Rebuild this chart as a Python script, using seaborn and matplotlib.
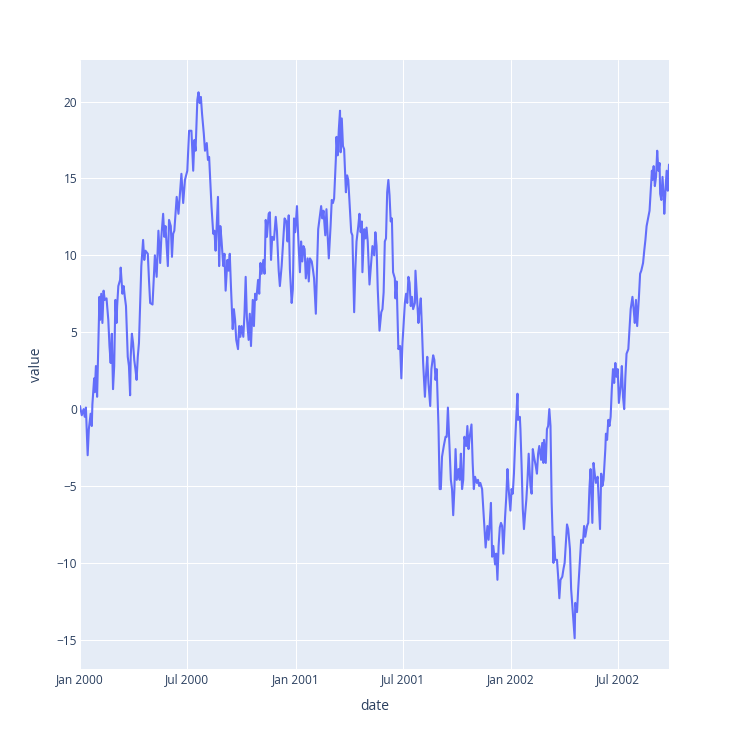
import numpy as np
import pandas as pd
import matplotlib
matplotlib.use("Agg")
import matplotlib.pyplot as plt
import matplotlib.dates as mdates
import seaborn as sns

# ── data: day offset from 2000-01-01 and value ──
START = "2000-01-01"

days_a = [0, 3, 6, 8, 10, 13, 15, 18, 20, 21, 24, 25, 27, 29, 33, 34, 36, 38, 40, 42,
          45, 48, 50, 52, 54, 56, 58, 60, 62, 63, 65, 68, 69, 72, 74, 76, 78, 81, 83, 85,
          86, 88, 90, 92, 94, 96, 98, 100, 102, 104, 107, 109, 111, 115, 117, 119, 123,
          125, 127, 130, 133, 136, 138, 141, 143, 145, 149, 151, 154, 156, 158, 160, 164,
          167]
vals_a = [0.2, -0.4, 0.0, -0.5, 0.1, -3.0, -1.3, -0.3, -1.1, 0.3, 2.0, 1.1, 2.8, 0.8, 7.3,
          5.8, 7.5, 5.6, 7.7, 7.1, 7.2, 5.8, 4.1, 3.0, 4.9, 1.3, 2.8, 7.1, 5.6, 6.7, 8.0,
          8.4, 9.2, 7.5, 8.0, 7.3, 6.7, 3.4, 2.8, 0.9, 3.4, 4.9, 4.3, 3.2, 2.6, 1.9, 3.4,
          4.3, 6.7, 9.3, 11.0, 9.7, 10.3, 10.1, 8.4, 6.9, 6.8, 8.4, 10.0, 8.6, 11.6, 9.5,
          11.2, 12.7, 11.2, 11.9, 9.3, 12.3, 11.9, 9.9, 11.4, 11.6, 13.8, 12.7]

days_b = [172, 175, 178, 182, 185, 189, 192, 194, 196, 199, 201, 203, 205, 207, 210, 212,
          215, 217, 219, 223, 226, 228, 230, 232, 234, 236, 238, 240, 243, 245, 247, 250,
          252, 254, 256, 259, 261, 263, 265, 268, 270, 272, 274, 277, 279, 281, 283, 286,
          288, 290, 293, 295, 297, 299, 302, 304, 306, 308, 311, 313, 315, 317, 320, 322,
          324, 326, 329, 332, 334, 337, 339, 342, 345]
vals_b = [15.3, 13.4, 14.9, 15.5, 18.1, 18.1, 15.5, 17.5, 16.8, 20.1, 20.6, 19.9, 20.3,
          19.2, 17.9, 16.8, 17.3, 16.2, 16.4, 13.2, 11.4, 11.6, 10.3, 12.1, 13.8, 9.3,
          11.9, 11.0, 9.3, 10.1, 7.7, 9.7, 9.0, 10.1, 8.0, 5.2, 6.5, 5.8, 4.5, 3.9, 5.4,
          4.7, 5.4, 4.7, 6.2, 8.6, 6.0, 4.5, 6.2, 4.1, 7.1, 5.4, 7.5, 7.1, 8.4, 7.5, 9.5,
          8.8, 9.7, 8.8, 12.3, 11.2, 12.7, 12.8, 9.7, 11.2, 11.0, 12.5, 11.6, 9.0, 8.0,
          9.3, 11.2]

days_c = [347, 350, 352, 354, 356, 359, 361, 363, 365, 368, 370, 373, 375, 377, 379, 381,
          383, 386, 388, 390, 393, 395, 397, 400, 402, 404, 407, 409, 411, 413, 416, 418,
          420, 422, 425, 427, 429, 431, 434, 435, 437, 439, 441, 442, 444, 446, 448, 451,
          453, 455, 457, 460, 462, 465, 467, 469, 472, 474, 476, 478, 479, 482, 484, 486,
          488, 491, 494, 496, 499, 501, 503, 505, 508, 511, 513, 515, 517, 519, 521, 523,
          525, 527, 529, 531, 534, 535, 537]
vals_c = [12.4, 12.2, 10.9, 12.6, 9.1, 6.9, 7.8, 12.4, 11.5, 13.2, 11.3, 8.9, 10.9, 9.6,
          10.6, 10.4, 8.5, 9.8, 8.3, 9.8, 9.6, 9.1, 8.5, 6.2, 9.1, 11.7, 12.6, 13.2, 12.4,
          12.9, 11.3, 13.0, 11.3, 9.8, 11.9, 13.6, 13.4, 13.7, 16.3, 17.7, 16.5, 18.2,
          19.4, 16.7, 18.9, 17.1, 16.9, 14.1, 15.2, 14.9, 13.5, 11.5, 11.3, 6.3, 9.1, 10.9,
          11.9, 12.7, 11.5, 12.2, 8.9, 11.7, 11.1, 11.8, 10.9, 8.1, 9.6, 10.6, 10.0, 11.5,
          10.6, 7.8, 5.1, 6.3, 6.5, 7.6, 10.9, 11.1, 14.1, 14.9, 13.9, 12.2, 12.4, 8.9,
          8.5, 7.2, 8.3]

days_d = [538, 540, 543, 545, 547, 551, 553, 555, 557, 559, 561, 563, 565, 568, 569, 572,
          574, 576, 578, 580, 582, 585, 587, 589, 591, 594, 596, 599, 601, 603, 605, 608,
          610, 612, 614, 617, 620, 622, 624, 626, 629, 631, 633, 635, 637, 639, 642, 644,
          646, 648, 650, 652, 655, 657, 659, 661, 664, 666, 668, 670, 673, 675, 677, 679,
          682, 684, 686, 688, 691, 693, 695, 697, 699, 701, 704, 706, 708, 710]
vals_d = [6.9, 3.9, 4.1, 2.0, 4.3, 6.9, 7.5, 6.9, 8.6, 8.2, 6.7, 7.3, 6.5, 6.9, 9.0, 6.9,
          5.6, 6.5, 7.2, 5.2, 3.0, 0.8, 2.3, 3.4, 1.7, 0.2, 2.6, 3.5, 3.2, 1.9, 2.6, -1.1,
          -5.2, -5.2, -3.1, -2.4, -1.8, -1.8, 0.1, -1.8, -4.6, -5.2, -6.9, -5.2, -2.6,
          -4.6, -3.9, -4.6, -2.9, -5.2, -4.6, -1.8, -2.4, -1.1, -2.6, -1.8, -1.0, -3.5,
          -5.2, -4.4, -4.8, -4.6, -5.0, -4.8, -5.2, -6.5, -7.8, -9.0, -7.6, -8.5, -7.4,
          -6.1, -9.6, -8.9, -10.1, -9.4, -11.1, -8.9]

days_e = [712, 714, 716, 718, 721, 723, 725, 727, 730, 732, 734, 736, 738, 740, 742, 743,
          746, 747, 749, 751, 753, 755, 757, 759, 761, 764, 766, 768, 770, 773, 775, 777,
          779, 782, 784, 786, 787, 790, 792, 794, 796, 798, 800, 803, 804, 806, 809, 811,
          813, 815, 818, 820, 822, 825, 826, 828, 831, 833, 835, 837, 839, 840, 843, 845]
vals_e = [-7.7, -7.4, -7.6, -9.4, -7.0, -5.7, -3.9, -5.2, -6.6, -5.2, -5.5, -4.2, -2.2,
          -0.5, 1.0, -0.7, -0.5, -1.3, -3.7, -6.5, -7.8, -6.8, -5.9, -4.6, -2.9, -5.0,
          -5.5, -2.6, -3.1, -3.7, -4.2, -2.9, -2.4, -3.3, -2.2, -3.5, -2.0, -3.5, -1.3,
          -1.1, 0.0, -1.1, -6.1, -10.0, -8.3, -9.8, -9.8, -10.9, -12.3, -11.1, -10.9,
          -10.4, -10.0, -8.1, -7.5, -7.8, -9.1, -11.7, -12.8, -13.9, -14.9, -12.6, -13.2,
          -11.7]

days_f = [847, 850, 853, 855, 857, 860, 862, 864, 866, 869, 871, 873, 875, 878, 880, 882,
          884, 886, 888, 891, 892, 894, 896, 898, 900, 902, 904, 906, 908, 910, 912, 914,
          917, 919, 921, 923, 925, 927, 930, 932, 934, 937, 939, 941, 943, 945, 948, 950,
          952, 955, 957, 959, 961, 964, 966, 968, 970, 971, 973, 975, 977, 979, 981, 983,
          984, 986, 988, 990, 991, 993, 995, 997, 999]
vals_f = [-10.4, -8.5, -8.7, -7.6, -8.3, -7.6, -7.4, -5.2, -3.9, -7.4, -3.5, -4.2, -4.8,
          -4.4, -6.1, -7.8, -4.2, -5.0, -4.6, -2.6, -1.6, -2.0, -0.7, -1.1, -0.5, 1.3, 2.6,
          1.7, 3.0, 2.1, 2.6, 0.4, 1.5, 2.8, 0.8, 0.0, 2.1, 3.6, 3.9, 5.2, 6.5, 7.3, 6.5,
          5.6, 7.1, 5.4, 7.3, 8.8, 9.0, 9.5, 10.3, 11.0, 11.9, 12.5, 12.9, 14.2, 15.5,
          14.9, 15.8, 14.5, 15.1, 16.8, 15.5, 16.0, 14.0, 13.6, 15.1, 13.8, 12.7, 14.2,
          15.5, 14.2, 15.9]

days = days_a + days_b + days_c + days_d + days_e + days_f
values = vals_a + vals_b + vals_c + vals_d + vals_e + vals_f

df = pd.DataFrame({
    "date": pd.Timestamp(START) + pd.to_timedelta(days, unit="D"),
    "value": values,
})

# ── plotly-like look ──
sns.set_theme(style="darkgrid", rc={
    "axes.facecolor": "#E5ECF6",
    "figure.facecolor": "white",
    "grid.color": "white",
    "grid.linewidth": 0.75,
})
plt.rcParams["font.family"] = ["Open Sans", "DejaVu Sans"]

text_col = "#2a3f5f"
fig = plt.figure(figsize=(7.5, 7.5), dpi=100)
ax = fig.add_axes([80 / 750, 81 / 750, 589 / 750, 609 / 750])

ax.axhline(0, color="white", linewidth=1.6, zorder=1)
sns.lineplot(data=df, x="date", y="value", ax=ax, color="#636EFA",
             linewidth=1.5, estimator=None, zorder=3)

ax.set_xlim(df["date"].iloc[0], df["date"].iloc[-1])
ax.set_ylim(-16.9, 22.7)
ax.set_yticks(range(-15, 21, 5))
ax.xaxis.set_major_locator(mdates.MonthLocator(bymonth=[1, 7]))
ax.xaxis.set_major_formatter(mdates.DateFormatter("%b %Y"))

ax.tick_params(axis="both", length=0, labelsize=8.6, labelcolor=text_col)
ax.tick_params(axis="x", pad=3)
ax.tick_params(axis="y", pad=2)
for s in ax.spines.values():
    s.set_visible(False)

ax.set_xlabel("date", fontsize=10, color=text_col, labelpad=9)
ax.set_ylabel("value", fontsize=10, color=text_col, labelpad=9)

fig.savefig("out.png", dpi=100)
